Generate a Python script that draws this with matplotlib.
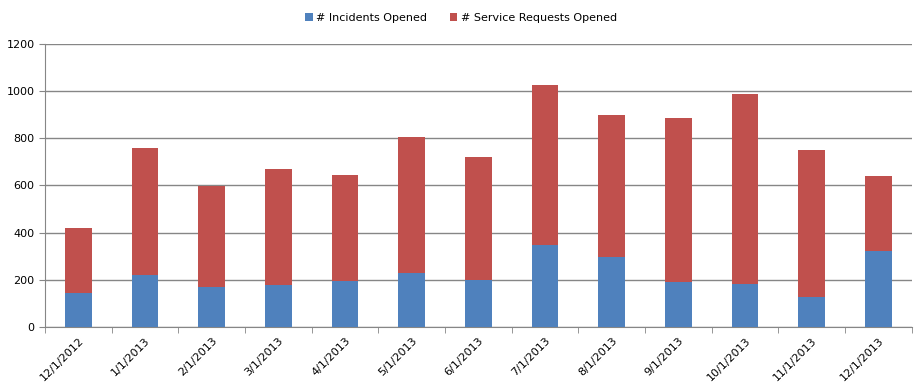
import numpy as np
import matplotlib
matplotlib.use('Agg')
import matplotlib.pyplot as plt

months = ["12/1/2012", "1/1/2013", "2/1/2013", "3/1/2013", "4/1/2013", "5/1/2013",
          "6/1/2013", "7/1/2013", "8/1/2013", "9/1/2013", "10/1/2013", "11/1/2013", "12/1/2013"]
incidents = [144, 221, 170, 178, 195, 229, 201, 348, 297, 192, 184, 127, 323]
service_requests = [276, 539, 429, 493, 450, 578, 521, 679, 603, 695, 805, 624, 318]

fig = plt.figure(figsize=(9.22, 3.92), dpi=100)
ax = fig.add_axes([0.0488, 0.166, 0.940, 0.722])

x = np.arange(len(months))
ax.bar(x, incidents, width=0.4, color='#4F81BD', label='# Incidents Opened', zorder=3)
ax.bar(x, service_requests, width=0.4, bottom=incidents, color='#C0504D',
       label='# Service Requests Opened', zorder=3)

ax.set_xlim(-0.5, len(months) - 0.5)
ax.set_ylim(0, 1200)
ax.set_yticks(range(0, 1201, 200))
ax.yaxis.grid(True, color='#868686', linewidth=1, zorder=0)

for s in ['top', 'right']:
    ax.spines[s].set_visible(False)
for s in ['left', 'bottom']:
    ax.spines[s].set_color('#868686')

ax.set_xticks(x)
ax.set_xticklabels(months, rotation=45, ha='right', rotation_mode='anchor', fontsize=8)
ax.set_xticks(np.arange(-0.5, len(months)), minor=True)
ax.tick_params(axis='x', which='major', length=0, pad=6)
ax.tick_params(axis='x', which='minor', length=4, color='#868686')
ax.tick_params(axis='y', length=4, color='#868686', labelsize=8)

fig.legend(loc='center', bbox_to_anchor=(0.5, 0.955), ncol=2, frameon=False,
           fontsize=8, handlelength=0.7, handleheight=0.7, handletextpad=0.3,
           columnspacing=2.0)

fig.savefig('out.png', dpi=100)
